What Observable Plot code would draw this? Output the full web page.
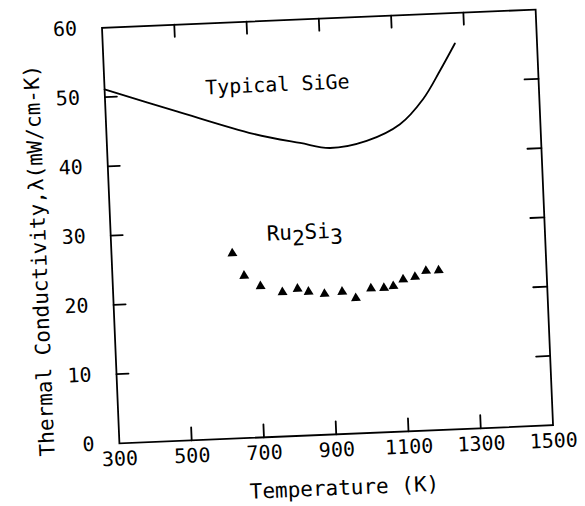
<!DOCTYPE html>
<html><head><meta charset="utf-8">
<script src="https://cdn.jsdelivr.net/npm/d3@7"></script>
<script src="https://cdn.jsdelivr.net/npm/@observablehq/plot@0.6"></script>
<style>
html,body{margin:0;padding:0;background:#fff;}
#chart{width:585px;height:506px;overflow:hidden;}
#chart svg{display:block;transform:rotate(-2.4deg);transform-origin:327.5px 226px;}
</style></head><body><div id="chart"></div>
<script>
// Tick labels
const xTickValues = [300, 500, 700, 900, 1100, 1300, 1500];
const yTickValues = [0, 10, 20, 30, 40, 50, 60];
const xInnerTicks = [500, 700, 900, 1100, 1300];
const yInnerTicks = [10, 20, 30, 40, 50];

// Typical SiGe curve (K, mW/cm-K)
const sigeTemp = [300, 497, 706, 834, 916, 1018, 1112, 1179, 1229, 1273];
const sigeK    = [51.1, 47.5, 43.8, 42.2, 41.3, 42.1, 44.3, 47.8, 51.8, 55.6];

// Ru2Si3 measured points
const ruTemp = [634, 664, 708, 768, 810, 840, 884, 933, 970, 1013, 1049, 1075, 1103, 1136, 1167, 1202];
const ruK    = [26.7, 23.4, 21.8, 20.8, 21.2, 20.7, 20.3, 20.5, 19.5, 20.8, 20.8, 21.0, 21.9, 22.2, 23.0, 23.0];

const seriesNames = ["Typical SiGe", "Ru2Si3"];
const xTitle = "Temperature (K)";
const yTitle = "Thermal Conductivity,λ(mW/cm-K)";

const sige = sigeTemp.map((t, i) => ({t, k: sigeK[i]}));
const ru = ruTemp.map((t, i) => ({t, k: ruK[i]}));

const tickShape = {draw(ctx, l) { ctx.moveTo(0, 0); ctx.lineTo(0, -l); }};
const fmt = d => String(d);

const svg = Plot.plot({
  width: 585,
  height: 506,
  marginLeft: 110,
  marginRight: 41,
  marginTop: 18,
  marginBottom: 72,
  style: {fontFamily: "'DejaVu Sans Mono', monospace", fontSize: "20px", background: "#fff", color: "#000"},
  x: {domain: [300, 1500]},
  y: {domain: [0, 60]},
  marks: [
    Plot.frame({strokeWidth: 1.8}),
    Plot.axisX(xTickValues, {tickSize: 0, tickPadding: 8, tickFormat: fmt, label: null, fontSize: 20}),
    Plot.axisY(yTickValues, {tickSize: 0, tickPadding: 25, tickFormat: fmt, label: null, fontSize: 20}),
    Plot.vector(xInnerTicks, {x: d => d, y: 0, length: 13, rotate: 0, anchor: "start", shape: tickShape, strokeWidth: 1.8}),
    Plot.vector(xInnerTicks, {x: d => d, y: 60, length: 12, rotate: 180, anchor: "start", shape: tickShape, strokeWidth: 1.8}),
    Plot.vector(yInnerTicks, {x: 300, y: d => d, length: 12, rotate: 90, anchor: "start", shape: tickShape, strokeWidth: 1.8}),
    Plot.vector(yInnerTicks, {x: 1500, y: d => d, length: 14, rotate: -90, anchor: "start", shape: tickShape, strokeWidth: 1.8}),
    Plot.line(sige, {x: "t", y: "k", curve: "catmull-rom", strokeWidth: 1.8}),
    Plot.dot(ru, {x: "t", y: "k", symbol: "triangle", r: 3.7, fill: "#000", stroke: "none"}),
    Plot.text([seriesNames[0]], {x: 578, y: 50.7, textAnchor: "start", fontSize: 20}),
    Plot.text([seriesNames[1]], {x: 731, y: 29.3, textAnchor: "start", fontSize: 21}),
    Plot.text([xTitle], {frameAnchor: "bottom", textAnchor: "middle", lineAnchor: "middle", dx: 6, dy: 54, fontSize: 21}),
    Plot.text([yTitle], {frameAnchor: "left", textAnchor: "middle", lineAnchor: "middle", rotate: -90, dx: -72, dy: 22, fontSize: 21})
  ]
});

// Subscripts in Ru2Si3
d3.select(svg).selectAll("text").filter(function() { return this.textContent === "Ru2Si3"; })
  .each(function() {
    const t = d3.select(this);
    t.text(null);
    t.append("tspan").text("Ru");
    t.append("tspan").attr("dy", 6).text("2");
    t.append("tspan").attr("dy", -6).text("Si");
    t.append("tspan").attr("dy", 6).text("3");
  });

document.getElementById("chart").append(svg);
</script></body></html>
